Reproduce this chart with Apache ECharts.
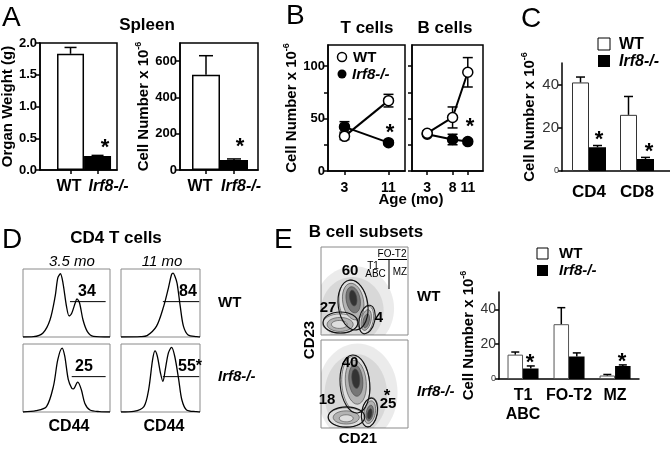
<!DOCTYPE html>
<html><head><meta charset="utf-8">
<script src="https://cdn.jsdelivr.net/npm/echarts@6.0.0/dist/echarts.min.js"></script>
<style>html,body{margin:0;padding:0;background:#fff}#c{width:670px;height:449px}</style>
</head><body><div id="c"></div>
<script>
// ================= DATA =================
const genotypes = ['WT', 'Irf8-/-'];
// A: spleen
const spleenWeight = [1.83, 0.22];
const spleenWeightErr = [0.10, 0.01];
const spleenCells = [525, 55];
const spleenCellsErr = [105, 6];
// B: time course (age in months)
const tAges = [3, 11];
const tWT = [33, 67];
const tWTErr = [3, 6];
const tKO = [42, 27];
const tKOErr = [5, 2];
const bAges = [3, 8, 11];
const bWT = [36, 51, 94];
const bWTErr = [2, 10, 14];
const bKO = [35, 30, 28];
const bKOErr = [2, 5, 2];
// C: T cell subsets
const tSubsets = ['CD4', 'CD8'];
const tSubWT = [41, 26];
const tSubWTErr = [2.5, 8.5];
const tSubKO = [11, 5.5];
const tSubKOErr = [0.8, 0.8];
// D: CD44 histograms [CD44 channel 0-100, % of max]
const histWT35 = [[0,0],[12,0.5],[23,6],[31,25],[37,60],[40,87],[43,93],[46,79],[50,45],[53,31],[56,35],[60,50],[62,56],[65,50],[69,25],[74,8],[81,1],[100,0]];
const histWT11 = [[0,0],[25,0.5],[33,2],[45,16],[54,45],[60,72],[64,92],[66,94],[68,90],[71,79],[75,45],[79,16],[85,3],[96,0.5],[100,0]];
const histKO35 = [[0,0],[15,2],[27,8],[35,38],[40,77],[45,94],[48,82],[52,48],[56,35],[58,34],[62,43],[63,44],[67,33],[71,13],[77,3],[88,0.5],[100,0]];
const histKO11 = [[0,0],[16,1],[29,8],[35,33],[40,77],[43,90],[46,82],[50,57],[53,45],[56,62],[60,87],[64,95],[68,82],[73,48],[77,18],[83,3],[96,0.5],[100,0]];
// gates: [from, to, level]
const gateWT35 = [54, 95, 52];
const gateWT11 = [53, 99, 52];
const gateKO35 = [56, 95, 52];
const gateKO11 = [53, 99, 52];
const pctCD44hi = ['34', '84', '25', '55*'];
// E: flow plots (CD21 x, CD23 y, 0-100). density contours: [cx, cy, rx, ry, tiltDeg, level]
const densWT = [
  [38,30,46,48,0,0],[36,28,36,38,0,0],
  [37,36,16,27,10,1],[22,13,20,11,0,1],[52,17,8,16,-12,1],
  [37,38,12,21,10,2],[22,12,15,8,0,2],[52,17,5.5,12,-12,2],
  [37,40,8,15,10,3],[52,16,3.5,8,-12,3],[21,12,9,4.5,0,1],
  [37,42,4,9,10,4]
];
const gatesWT = [[36.8,34,17,28.5,8],[22.4,14.2,20,12,0],[52.9,17.6,9,16.5,-12]];
const densKO = [
  [42,40,46,56,0,0],[40,38,36,46,0,0],
  [40,50,16,32,5,1],[29,12,21,11,0,1],[56,18,9,17,-10,1],
  [40,52,12,25,5,2],[29,12,15,7.5,0,2],[56,18,6.5,13,-10,2],
  [40,54,8,18,5,3],[56,17,4,9,-10,3],[29,11,8,4,0,1],
  [40,56,4.5,11,5,4],[56,16,2.5,6,-10,4]
];
const gatesKO = [[39,50,17,33,5],[29.3,12.5,21,11.5,0],[55.7,17.6,9,16.5,-10]];
const gatePctWT = ['60', '27', '4'];
const gatePctKO = ['40', '18', '25'];
// E: B cell subset numbers
const bSubsets = ['T1\nABC', 'FO-T2', 'MZ'];
const bSubWT = [14, 31.5, 2];
const bSubWTErr = [1.5, 9.5, 0.6];
const bSubKO = [6, 13, 7.5];
const bSubKOErr = [1.5, 2, 0.6];

// ================= HELPERS =================
const F = '"Liberation Sans", Arial, Helvetica, sans-serif';
const K = '#000';
const lab = (size, extra) => Object.assign({fontFamily: F, fontWeight: 'bold', fontSize: size, color: K}, extra || {});
const cat = n => n.indexOf('Irf8') === 0 ? '{i|' + n + '}' : '{w|' + n + '}';
const cellName = '{n|Cell Number x 10}{s|-6}';
const pairs = (xs, ys) => ys.map((v, i) => [xs[i], v]);
const idx = ys => ys.map((v, i) => [i + 1, v]);
const triples = (xs, ys, es) => ys.map((v, i) => [xs[i], v, es[i]]);

function xVal(gi, min, max, vals, names, o) {
  o = o || {};
  const size = o.size || 16;
  const labVals = o.labVals || vals;
  return {gridIndex: gi, type: 'value', min, max, splitLine: {show: false}, position: 'bottom',
    axisLine: {show: !o.bare, onZero: false, lineStyle: {color: K, width: o.lw || 1.5}},
    axisTick: {show: !o.bare && o.ticks !== false, customValues: vals, length: 4, lineStyle: {color: K, width: 1.5}},
    axisLabel: Object.assign(lab(size), {customValues: labVals, margin: o.margin || 7, lineHeight: o.lh || size + 2,
      showMinLabel: true, showMaxLabel: true, hideOverlap: false,
      formatter: v => names ? cat(names[Math.round(v) - 1]) : String(v),
      rich: {i: lab(size, {fontStyle: 'italic', padding: o.padI || 0, lineHeight: o.lh || size + 2}),
             w: lab(size, {padding: o.padW || 0, lineHeight: o.lh || size + 2})}})};
}
function yVal(gi, min, max, ticks, labels, o) {
  o = o || {};
  const size = o.size || 13;
  const ax = {gridIndex: gi, type: 'value', min, max, splitLine: {show: false},
    axisLine: {show: true, onZero: false, lineStyle: {color: K, width: o.lw || 1.5}},
    axisTick: {show: true, customValues: ticks, length: 4, lineStyle: {color: K, width: 1.5}},
    axisLabel: labels ? Object.assign(lab(size, {fontWeight: o.weight || 'bold', color: o.color || K}),
      {customValues: labels, margin: o.margin || 3, formatter: o.fmt || (v => String(v)),
       showMinLabel: true, showMaxLabel: true, hideOverlap: false,
       rich: {z: lab(9, {fontWeight: 'normal', color: o.color || K})}}) : {show: false}};
  if (o.name) {
    Object.assign(ax, {name: o.name, nameLocation: 'middle', nameGap: o.gap,
      nameTextStyle: Object.assign(lab(15), {rich: {n: lab(15, {lineHeight: 20}), s: lab(9, {verticalAlign: 'top'})}})});
  }
  return ax;
}
function errSeries(ai, data, offset, cap, both, z) {
  return {type: 'custom', xAxisIndex: ai, yAxisIndex: ai, z: z || 5, silent: true, data,
    renderItem: (p, api) => {
      const x = api.value(0), m = api.value(1), e = api.value(2);
      const c = api.coord([x, m]), t = api.coord([x, m + e]), b = api.coord([x, m - e]);
      const X = c[0] + offset;
      const st = {stroke: K, lineWidth: 1.5};
      const ch = [
        {type: 'line', shape: {x1: X, y1: both ? b[1] : c[1], x2: X, y2: t[1]}, style: st},
        {type: 'line', shape: {x1: X - cap, y1: t[1], x2: X + cap, y2: t[1]}, style: st}];
      if (both) ch.push({type: 'line', shape: {x1: X - cap, y1: b[1], x2: X + cap, y2: b[1]}, style: st});
      return {type: 'group', children: ch};
    }};
}
function barSeries(ai, data, filled, w, o) {
  o = o || {};
  return {type: 'bar', xAxisIndex: ai, yAxisIndex: ai, data, barWidth: w, barGap: o.gap || '-100%', z: 3,
    itemStyle: {color: filled ? K : '#fff', borderColor: filled ? K : (o.bc || K), borderWidth: o.bw || 1.5}};
}
function lineSeries(ai, data, filled) {
  return {type: 'line', xAxisIndex: ai, yAxisIndex: ai, data, symbol: 'circle', symbolSize: 10, z: 4,
    lineStyle: {color: K, width: 2}, itemStyle: {color: filled ? K : '#fff', borderColor: K, borderWidth: 1.5}};
}
function histSeries(ai, data, gate) {
  return [{type: 'line', xAxisIndex: ai, yAxisIndex: ai, data, smooth: 0.3, symbol: 'none', clip: true,
      lineStyle: {color: K, width: 1.3}},
    {type: 'line', xAxisIndex: ai, yAxisIndex: ai, data: [[gate[0], gate[2]], [gate[1], gate[2]]], symbol: 'none',
      lineStyle: {color: K, width: 1}}];
}
const levelFill = ['rgba(0,0,0,0.08)', '#dedede', '#b3b3b3', '#777', '#333'];
function ellipseSeries(ai, data, gate) {
  return {type: 'custom', xAxisIndex: ai, yAxisIndex: ai, data, clip: true, silent: true, z: gate ? 4 : 2,
    renderItem: (p, api) => {
      const c = api.coord([api.value(0), api.value(1)]);
      const s = api.size([api.value(2), api.value(3)]);
      const lv = api.value(5);
      const style = gate ? {fill: null, stroke: '#111', lineWidth: 1.1}
        : (lv === 0 ? {fill: levelFill[0]} : {fill: levelFill[lv], stroke: '#444', lineWidth: 0.6});
      return {type: 'ellipse', shape: {cx: c[0], cy: c[1], rx: s[0], ry: s[1]},
        rotation: api.value(4) * Math.PI / 180, originX: c[0], originY: c[1], style};
    }};
}
function hidden(gi) {
  return [{gridIndex: gi, type: 'value', min: 0, max: 100, show: false}];
}
function T(text, x, y, size, o) {
  o = o || {};
  const al = o.align || 'center', va = o.va || 'middle';
  return {type: 'text', x, y, z: 100, rotation: o.rot || 0, silent: true,
    style: {text, font: (o.italic ? 'italic ' : '') + (o.normal ? '' : 'bold ') + size + 'px ' + F, fill: o.color || K,
      textAlign: al, textVerticalAlign: va, align: al, verticalAlign: va}};
}
function L(x1, y1, x2, y2, w) {
  return {type: 'line', silent: true, z: 100, shape: {x1, y1, x2, y2}, style: {stroke: K, lineWidth: w || 1}};
}

// ================= LAYOUT =================
const frame = {show: true, borderColor: K, borderWidth: 1.5, backgroundColor: 'transparent', outerBoundsMode: 'none'};
const thin = {show: true, borderColor: '#8a8a8a', borderWidth: 1, backgroundColor: 'transparent', outerBoundsMode: 'none'};
const plain = {show: false, outerBoundsMode: 'none'};
const grids = [
  Object.assign({left: 40, top: 43, width: 77, height: 127}, frame),   // 0 A weight
  Object.assign({left: 180, top: 43, width: 78, height: 127}, frame),  // 1 A cells
  Object.assign({left: 328, top: 45, width: 77, height: 126}, frame),  // 2 B T cells
  Object.assign({left: 412, top: 45, width: 71, height: 126}, frame),  // 3 B B cells
  Object.assign({left: 562, top: 63, width: 108, height: 108}, plain), // 4 C
  Object.assign({left: 23, top: 269, width: 87, height: 68}, thin),    // 5 D
  Object.assign({left: 121, top: 269, width: 79, height: 68}, thin),   // 6
  Object.assign({left: 23, top: 344, width: 87, height: 68}, thin),    // 7
  Object.assign({left: 121, top: 344, width: 79, height: 68}, thin),   // 8
  Object.assign({left: 321, top: 247, width: 87, height: 88}, thin),   // 9 E flow WT
  Object.assign({left: 321, top: 340, width: 87, height: 88}, thin),   // 10 E flow KO
  Object.assign({left: 499, top: 292, width: 140, height: 87}, plain)  // 11 E bars
];

const xAxes = [
  xVal(0, -0.13, 2.72, [1, 2], genotypes, {labVals: [1], padW: [0, 3, 0, 0], margin: 8}),
  xVal(1, 0.0714, 2.857, [1, 2], genotypes, {labVals: [1], padW: [0, 12, 0, 0], margin: 8}),
  xVal(2, 0, 14, tAges, null, {size: 14, margin: 9}),
  xVal(3, 0, 14, bAges, null, {size: 14, margin: 9}),
  xVal(4, 0.4375, 2.6875, [1, 2], tSubsets, {size: 17, ticks: false, margin: 12}),
  ...hidden(5), ...hidden(6), ...hidden(7), ...hidden(8), ...hidden(9), ...hidden(10),
  xVal(11, 0.478, 3.52, [1, 2, 3], bSubsets, {size: 16, ticks: false, margin: 7, lh: 19}),
  // label-only companions for the second genotype in panel A
  xVal(0, -0.13, 2.72, [2], genotypes, {bare: true, padI: [0, 0, 0, 22], margin: 8}),
  xVal(1, 0.0714, 2.857, [2], genotypes, {bare: true, padI: [0, 0, 0, 14], margin: 8})
];
const zeroSmall = v => v === 0 ? '{z|0}' : String(v);
const yAxes = [
  yVal(0, 0, 2, [0, 0.5, 1, 1.5, 2], [0, 0.5, 1, 1.5, 2], {fmt: v => v.toFixed(1), name: 'Organ Weight (g)', gap: 17}),
  yVal(1, 0, 700, [0, 200, 400, 600], [0, 200, 400, 600], {name: cellName, gap: 24}),
  yVal(2, 0, 120, [0, 25, 50, 75, 100], [0, 50, 100], {name: cellName, gap: 21}),
  yVal(3, 0, 120, [0, 25, 50, 75, 100], null),
  yVal(4, 0, 50, [0, 20, 40], [0, 20, 40], {weight: 'normal', color: '#333', size: 15, fmt: zeroSmall, name: cellName, gap: 22}),
  ...hidden(5), ...hidden(6), ...hidden(7), ...hidden(8), ...hidden(9), ...hidden(10),
  yVal(11, 0, 50, [0, 20, 40], [0, 20, 40], {weight: 'normal', color: '#333', size: 14, fmt: zeroSmall, name: cellName, gap: 15})
];

const series = [
  // A
  barSeries(0, [[1, spleenWeight[0]]], false, 27),
  barSeries(0, [[2, spleenWeight[1]]], true, 27),
  errSeries(0, [[1, spleenWeight[0], spleenWeightErr[0]], [2, spleenWeight[1], spleenWeightErr[1]]], 0, 6, false),
  barSeries(1, [[1, spleenCells[0]]], false, 28),
  barSeries(1, [[2, spleenCells[1]]], true, 28),
  errSeries(1, [[1, spleenCells[0], spleenCellsErr[0]], [2, spleenCells[1], spleenCellsErr[1]]], 0, 7, false),
  // B
  errSeries(2, triples(tAges, tWT, tWTErr), 0, 5, true, 1),
  errSeries(2, triples(tAges, tKO, tKOErr), 0, 5, true, 1),
  lineSeries(2, pairs(tAges, tKO), true),
  lineSeries(2, pairs(tAges, tWT), false),
  errSeries(3, triples(bAges, bWT, bWTErr), 0, 5, true, 1),
  errSeries(3, triples(bAges, bKO, bKOErr), 0, 5, true, 1),
  lineSeries(3, pairs(bAges, bKO), true),
  lineSeries(3, pairs(bAges, bWT), false),
  // C
  barSeries(4, idx(tSubWT), false, 17, {gap: '0%', bc: '#333', bw: 1}),
  barSeries(4, idx(tSubKO), true, 17, {gap: '0%'}),
  errSeries(4, tSubWT.map((v, i) => [i + 1, v, tSubWTErr[i]]), -8.5, 4.5, false),
  errSeries(4, tSubKO.map((v, i) => [i + 1, v, tSubKOErr[i]]), 8.5, 4.5, false),
  // D
  ...histSeries(5, histWT35, gateWT35),
  ...histSeries(6, histWT11, gateWT11),
  ...histSeries(7, histKO35, gateKO35),
  ...histSeries(8, histKO11, gateKO11),
  // E flows
  ellipseSeries(9, densWT, false),
  ellipseSeries(9, gatesWT, true),
  ellipseSeries(10, densKO, false),
  ellipseSeries(10, gatesKO, true),
  // E bars
  barSeries(11, idx(bSubWT), false, 15.5, {gap: '0%', bc: '#555', bw: 1}),
  barSeries(11, idx(bSubKO), true, 15.5, {gap: '0%'}),
  errSeries(11, bSubWT.map((v, i) => [i + 1, v, bSubWTErr[i]]), -7.75, 4, false),
  errSeries(11, bSubKO.map((v, i) => [i + 1, v, bSubKOErr[i]]), 7.75, 4, false)
];

const graphics = [
  // panel letters
  T('A', 2, 18, 28, {normal: true, align: 'left'}),
  T('B', 286, 16, 28, {normal: true, align: 'left'}),
  T('C', 521, 19, 28, {normal: true, align: 'left'}),
  T('D', 2, 240, 28, {normal: true, align: 'left'}),
  T('E', 274, 240, 28, {normal: true, align: 'left'}),
  // titles
  T('Spleen', 147, 25, 17),
  T('T cells', 367, 28, 17),
  T('B cells', 445, 28, 17),
  T('Age (mo)', 411, 200, 15),
  T('CD4 T cells', 116, 238, 17),
  T('B cell subsets', 366, 232, 17),
  // asterisks
  T('*', 105, 148, 22), T('*', 240, 147, 22), T('*', 390, 133, 22), T('*', 470, 127, 22),
  T('*', 599, 140, 22), T('*', 649, 152, 22), T('*', 530, 363, 22), T('*', 622, 362, 22),
  // B legend
  {type: 'circle', z: 100, shape: {cx: 342, cy: 57, r: 4.5}, style: {fill: '#fff', stroke: K, lineWidth: 1.5}},
  {type: 'circle', z: 100, shape: {cx: 342, cy: 74, r: 4.5}, style: {fill: K}},
  T('WT', 353, 58, 15, {align: 'left'}),
  T('Irf8-/-', 352, 75, 15, {align: 'left', italic: true}),
  // C legend
  {type: 'rect', z: 100, shape: {x: 598, y: 38, width: 12, height: 12}, style: {fill: '#fff', stroke: K, lineWidth: 1}},
  {type: 'rect', z: 100, shape: {x: 598, y: 55, width: 12, height: 12}, style: {fill: K}},
  T('WT', 619, 45, 16, {align: 'left'}),
  T('Irf8-/-', 619, 62, 16, {align: 'left', italic: true}),
  // E bar legend
  {type: 'rect', z: 100, shape: {x: 537, y: 248, width: 11, height: 11}, style: {fill: '#fff', stroke: K, lineWidth: 1}},
  {type: 'rect', z: 100, shape: {x: 537, y: 265, width: 11, height: 11}, style: {fill: K}},
  T('WT', 559, 254, 15, {align: 'left'}),
  T('Irf8-/-', 559, 271, 15, {align: 'left', italic: true}),
  // D labels
  T('3.5 mo', 72, 262, 15, {normal: true, italic: true}),
  T('11 mo', 162, 262, 15, {normal: true, italic: true}),
  T(pctCD44hi[0], 87, 292, 16), T(pctCD44hi[1], 188, 292, 16),
  T(pctCD44hi[2], 84, 367, 16), T(pctCD44hi[3], 190, 367, 16),
  T('WT', 218, 303, 15, {align: 'left'}),
  T('Irf8-/-', 218, 377, 15, {align: 'left', italic: true}),
  T('CD44', 69, 427, 16), T('CD44', 164, 427, 16),
  // E flow labels
  T('FO-T2', 392, 254, 10, {normal: true}),
  L(378, 259.5, 407, 259.5, 1), L(389, 260, 389, 289, 1),
  T('T1', 373, 266, 10, {normal: true}),
  T('ABC', 375.5, 274, 10, {normal: true}),
  T('MZ', 400, 272, 10, {normal: true}),
  T(gatePctWT[0], 350, 271, 15), T(gatePctWT[1], 328, 308, 15), T(gatePctWT[2], 379, 318, 15),
  T(gatePctKO[0], 350, 363, 15), T(gatePctKO[1], 327, 400, 15), T('*', 387, 396, 17), T(gatePctKO[2], 388, 404, 15),
  T('WT', 417, 297, 15, {align: 'left'}),
  T('Irf8-/-', 417, 392, 15, {align: 'left', italic: true}),
  T('CD23', 310, 340, 15, {rot: Math.PI / 2}),
  T('CD21', 358, 439, 15)
];

const chart = echarts.init(document.getElementById('c'), null, {renderer: 'canvas', width: 670, height: 449});
chart.setOption({
  animation: false,
  backgroundColor: '#fff',
  textStyle: {fontFamily: F},
  grid: grids,
  xAxis: xAxes,
  yAxis: yAxes,
  series,
  graphic: graphics
});
</script>
</body></html>
